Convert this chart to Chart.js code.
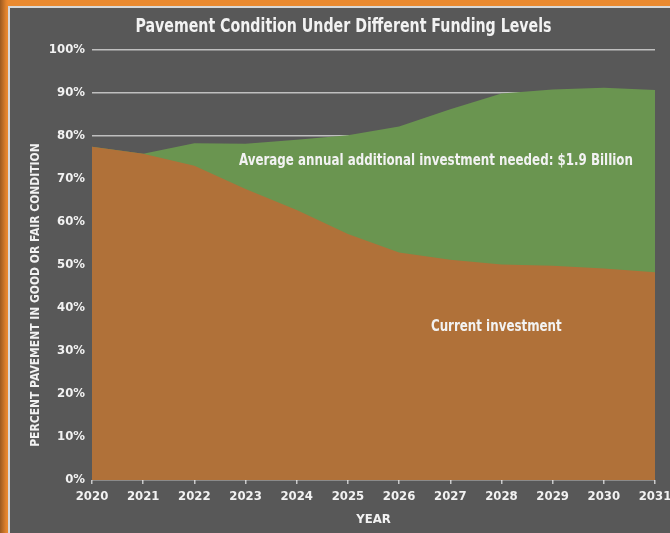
<!DOCTYPE html>
<html>
<head>
<meta charset="utf-8">
<script src="https://cdn.jsdelivr.net/npm/chart.js@4"></script>
<style>
    html, body {
        margin: 0;
        padding: 0;
        width: 670px;
        height: 533px;
        overflow: hidden;
        background: linear-gradient(to right, #9c5a1f 0px, #e0822c 6px, #ea8a30 8px);
    }

    #panel {
        position: absolute;
        left: 8px;
        top: 6px;
        width: 662px;
        height: 527px;
        background: #585858;
        border-top: 2px solid #d8d8d8;
        border-left: 2px solid #d8d8d8;
        box-sizing: border-box;
    }

    #wrap {
        position: absolute;
        left: 0;
        top: 0;
        width: 670px;
        height: 533px;
    }
</style>
</head>
<body>
<div id="panel"></div>
<div id="wrap"><canvas id="pavement-chart" width="670" height="533"></canvas></div>

<script>
// ------------------------
// DATA
// ------------------------

const years = ["2020", "2021", "2022", "2023", "2024", "2025", "2026", "2027", "2028", "2029", "2030", "2031"];

// % pavement in good or fair condition
const currentInvestment = [77.5, 75.9, 73.1, 67.7, 62.8, 57.2, 52.9, 51.2, 50.1, 49.8, 49.2, 48.3];
const neededInvestment  = [77.5, 75.9, 78.3, 78.2, 79.1, 80.2, 82.2, 86.2, 89.9, 90.8, 91.2, 90.7];

const yTicks = [0, 10, 20, 30, 40, 50, 60, 70, 80, 90, 100];

const chartTitle = "Pavement Condition Under Different Funding Levels";
const yTitle = "PERCENT PAVEMENT IN GOOD OR FAIR CONDITION";

const FONT = "'Liberation Sans Narrow', 'Arial Narrow', 'DejaVu Sans Condensed', sans-serif";
const TEXT = "#f2f2f2";

// narrow text: no narrow font installed, so squeeze horizontally
function narrowText(ctx, text, x, y, font, squeeze, angle) {
    ctx.save();
    ctx.font = font;
    ctx.translate(x, y);
    if (angle) ctx.rotate(angle);
    ctx.scale(squeeze, 1);
    ctx.fillText(text, 0, 0);
    ctx.restore();
}

// ------------------------
// TEXTS DRAWN ON TOP
// ------------------------

const chartTexts = {
    id: "chartTexts",
    afterDraw(chart) {
        const { ctx, chartArea, scales } = chart;
        const x = scales.x;
        const y = scales.y;

        ctx.save();
        ctx.fillStyle = TEXT;
        ctx.textAlign = "center";
        ctx.textBaseline = "middle";

        narrowText(ctx, chartTitle, (chartArea.left + chartArea.right) / 2 - 30, 27,
            "bold 19px " + FONT, 0.83);

        narrowText(ctx, "Average annual additional investment needed: $1.9 Billion",
            x.getPixelForValue(6.72), y.getPixelForValue(74.2),
            "bold 15px " + FONT, 0.88);

        narrowText(ctx, "Current investment",
            x.getPixelForValue(7.9), y.getPixelForValue(35.5),
            "bold 15px " + FONT, 0.88);

        // y axis title, sits a bit below the middle of the plot
        narrowText(ctx, yTitle, 36, (chartArea.top + chartArea.bottom) / 2 + 30,
            "bold 13px " + FONT, 0.92, -Math.PI / 2);

        ctx.restore();
    }
};

// ------------------------
// CHART
// ------------------------

function renderPavementChart() {

    const ctx = document.getElementById("pavement-chart").getContext("2d");

    return new Chart(ctx, {

        type: "line",

        data: {
            labels: years,
            datasets: [
                {
                    label: "Current investment",
                    data: currentInvestment,
                    backgroundColor: "#b07139",
                    borderWidth: 0,
                    pointRadius: 0,
                    fill: "origin"
                },
                {
                    label: "Additional investment",
                    data: neededInvestment,
                    backgroundColor: "#6a9550",
                    borderWidth: 0,
                    pointRadius: 0,
                    fill: "origin"
                }
            ]
        },

        options: {
            responsive: false,
            animation: false,
            layout: { padding: { left: 0, right: 15, top: 50, bottom: 0 } },

            plugins: {
                legend: { display: false },
                tooltip: { enabled: false },
                title: { display: false }
            },

            scales: {
                x: {
                    offset: false,
                    grid: {
                        drawOnChartArea: false,
                        color: "#c8c8c8",
                        tickLength: 4,
                        lineWidth: 1.5
                    },
                    border: { display: false },
                    ticks: {
                        color: TEXT,
                        padding: 5,
                        maxRotation: 0,
                        autoSkip: false,
                        font: { family: FONT, size: 13, weight: "bold" }
                    },
                    title: {
                        display: true,
                        text: "YEAR",
                        color: TEXT,
                        font: { family: FONT, size: 13, weight: "bold", lineHeight: 1.2 },
                        padding: { top: 4, bottom: 6 }
                    },
                    afterFit(scale) {
                        scale.height = 53;
                        scale.paddingLeft = 0;
                        scale.paddingRight = 0;
                    }
                },

                y: {
                    min: 0,
                    max: 100,
                    z: 1,
                    afterBuildTicks(scale) {
                        scale.ticks = yTicks.map(v => ({ value: v }));
                    },
                    grid: {
                        color: "rgba(255,255,255,0.62)",
                        lineWidth: 1.5,
                        drawTicks: false
                    },
                    border: { display: false },
                    ticks: {
                        color: TEXT,
                        padding: 7,
                        font: { family: FONT, size: 13, weight: "bold" },
                        callback: v => v + "%"
                    },
                    afterFit(scale) { scale.width = 92; }
                }
            }
        },

        plugins: [chartTexts]
    });
}

renderPavementChart();
</script>
</body>
</html>
